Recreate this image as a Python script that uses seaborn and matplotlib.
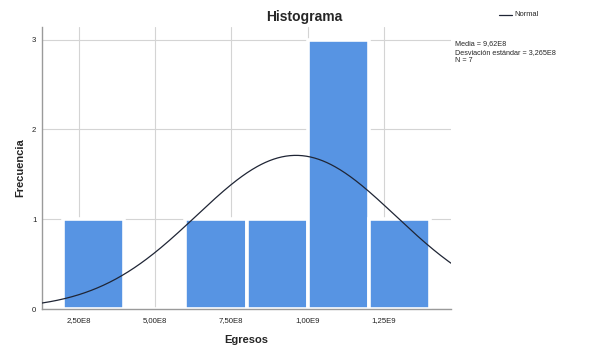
import numpy as np
import matplotlib
matplotlib.use("Agg")
import matplotlib.pyplot as plt
import seaborn as sns

# Data
bin_edges = [2.0e8, 4.0e8, 6.0e8, 8.0e8, 10.0e8, 12.0e8, 14.0e8]
bin_counts = [1, 0, 1, 1, 3, 1]
mean_val = 9.62e8
sd_val = 3.265e8
n_val = 7
x_ticks = [2.5e8, 5.0e8, 7.5e8, 1.0e9, 1.25e9]
x_tick_labels = ["2,50E8", "5,00E8", "7,50E8", "1,00E9", "1,25E9"]
y_ticks = [0, 1, 2, 3]
stats_lines = ["Media = 9,62E8", "Desviación estándar = 3,265E8", "N = 7"]

sns.set_theme(style="white")
plt.rcParams['font.family'] = ['Liberation Sans', 'DejaVu Sans']

fig = plt.figure(figsize=(6.02, 3.55), dpi=100)
ax = fig.add_axes([42/602, 1-309/355, (451-42)/602, (309-27)/355])

centers = [(a + b) / 2 for a, b in zip(bin_edges[:-1], bin_edges[1:])]
sns.histplot(x=centers, weights=bin_counts, bins=bin_edges, ax=ax,
             color="#5794e3", edgecolor="white", linewidth=2.6, alpha=1,
             zorder=2)

xlo, xhi = 1.30e8, 1.47e9
bw = bin_edges[1] - bin_edges[0]
xs = np.linspace(xlo, xhi, 400)
ys = n_val * bw / (sd_val * np.sqrt(2 * np.pi)) * np.exp(-0.5 * ((xs - mean_val) / sd_val) ** 2)
sns.lineplot(x=xs, y=ys, ax=ax, color="#1f2535", linewidth=0.9, zorder=3)

ax.set_xlim(xlo, xhi)
ax.set_ylim(0, 3.14)
ax.set_xticks(x_ticks)
ax.set_xticklabels(x_tick_labels, fontsize=5.6)
ax.set_yticks(y_ticks)
ax.set_yticklabels([str(t) for t in y_ticks], fontsize=5.6)
ax.tick_params(axis='x', length=0, pad=6, colors='#222222')
ax.tick_params(axis='y', length=0, pad=4, colors='#222222')
ax.grid(True, color="#d4d4d4", linewidth=0.8, zorder=0)
ax.set_axisbelow(True)
for s in ["top", "right"]:
    ax.spines[s].set_visible(False)
for s in ["left", "bottom"]:
    ax.spines[s].set_color("#9a9a9a")
    ax.spines[s].set_linewidth(1.0)

ax.set_xlabel("Egresos", fontsize=8, fontweight="bold", labelpad=8)
ax.set_ylabel("Frecuencia", fontsize=8, fontweight="bold", labelpad=5)
fig.text(0.506, 1-17/355, "Histograma", fontsize=10, fontweight="bold",
         ha="center", va="center")

# legend
fig.add_artist(plt.Line2D([499/602, 512/602], [1-15/355, 1-15/355],
                          color="#1f2535", linewidth=0.9))
fig.text(514/602, 1-15/355, "Normal", fontsize=5.4, ha="left", va="center")
for i, line in enumerate(stats_lines):
    fig.text(455/602, 1-(44 + i*8.2)/355, line, fontsize=5.2, ha="left", va="center")

fig.savefig("out.png", dpi=100)
